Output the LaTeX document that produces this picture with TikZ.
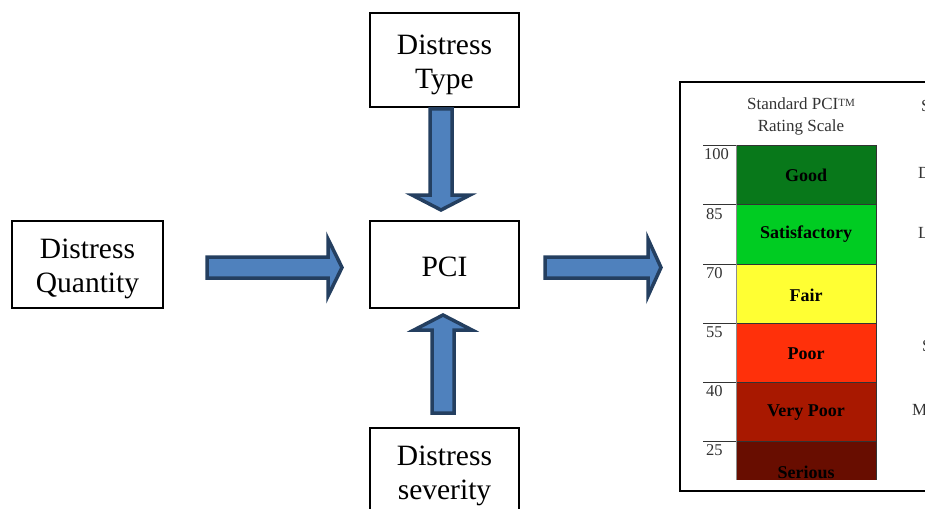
\documentclass[tikz,border=0pt]{standalone}
\usepackage{fontspec}
\setmainfont{Liberation Serif}
\tikzset{
  box/.style={draw=black, line width=1.3pt, fill=white, inner sep=0pt},
  boxtext/.style={font=\fontsize{29.5}{34}\selectfont, align=center},
  blockarrow/.style={draw=arrowedge, fill=arrowfill, line width=3.5pt, line join=miter},
  num/.style={anchor=north west, inner sep=0pt, text=numgray, font=\fontsize{16.5}{18}\selectfont},
  cell/.style={draw=black!80, line width=0.8pt},
  celltext/.style={font=\bfseries\fontsize{18}{20}\selectfont, text=black},
  cut/.style={anchor=west, inner sep=0pt, text=numgray, font=\fontsize{17}{18}\selectfont}
}
\definecolor{arrowfill}{HTML}{4F81BD}
\definecolor{arrowedge}{HTML}{243F60}
\definecolor{numgray}{HTML}{333333}
\definecolor{cgood}{HTML}{08781A}
\definecolor{csat}{HTML}{00CC22}
\definecolor{cfair}{HTML}{FFFF33}
\definecolor{cpoor}{HTML}{FF300A}
\definecolor{cvpoor}{HTML}{A81800}
\definecolor{cser}{HTML}{680D00}
\begin{document}
\begin{tikzpicture}[x=1pt,y=-1pt]
\useasboundingbox (0,0) rectangle (925,508);
\clip (0,0) rectangle (925,508);
\fill[white] (0,0) rectangle (925,508);
% boxes
\draw[box] (12,221) rectangle (163,308);
\node[boxtext] (qty) at (87.5,269) {Distress\\Quantity};
\draw[box] (370,13) rectangle (519,107);
\node[boxtext] (type) at (444.5,65) {Distress\\Type};
\draw[box] (370,221) rectangle (519,308);
\node[boxtext] (pci) at (444.5,267) {PCI};
\draw[box] (370,428) rectangle (519,520);
\node[boxtext] (sev) at (444.5,476) {Distress\\severity};
% block arrows
\draw[blockarrow] (207,257) -- (328,257) -- (328,239) -- (342,267.5) -- (328,296) -- (328,278) -- (207,278) -- cycle;
\draw[blockarrow] (545,257) -- (648,257) -- (648,239) -- (661,267.5) -- (648,296) -- (648,278) -- (545,278) -- cycle;
\draw[blockarrow] (430,109) -- (430,195) -- (412,195) -- (441,210) -- (470,195) -- (452,195) -- (452,109) -- cycle;
\draw[blockarrow] (432,413) -- (432,330) -- (414,330) -- (443,315) -- (472,330) -- (454,330) -- (454,413) -- cycle;
% rating scale panel
\draw[black, line width=2.2pt] (680,82) rectangle (960,491);
\node[font=\fontsize{17}{22}\selectfont, text=numgray, align=center] (title) at (801,116) {Standard PCI\raisebox{0.3ex}{\fontsize{11}{12}\selectfont TM}\\Rating Scale};
\fill[cgood] (736,145) rectangle (876,204);
\fill[csat] (736,204) rectangle (876,264);
\fill[cfair] (736,264) rectangle (876,323);
\fill[cpoor] (736,323) rectangle (876,382);
\fill[cvpoor] (736,382) rectangle (876,441);
\fill[cser] (736,441) rectangle (876,480);
\foreach \y in {145,204,264,323,382,441} {\draw[cell] (703,\y) -- (876,\y);}
\draw[black!45, line width=0.8pt] (736,145) -- (736,480);
\draw[black!80, line width=0.8pt] (876,145) -- (876,480);
\node[num] (n100) at (704,148) {100};
\node[num] (n85) at (706,208) {85};
\node[num] (n70) at (706,267) {70};
\node[num] (n55) at (706,326) {55};
\node[num] (n40) at (706,385) {40};
\node[num] (n25) at (706,444) {25};
\node[celltext] (good) at (806,175) {Good};
\node[celltext] (sat) at (806,234) {Satisfactory};
\node[celltext] (fair) at (806,295) {Fair};
\node[celltext] (poor) at (806,354) {Poor};
\node[celltext] (vpoor) at (806,413) {Very Poor};
\begin{scope}
\clip (736,441) rectangle (876,480);
\node[celltext] (ser) at (806,472) {Serious};
\end{scope}
% cut-off letters at the right edge (as in the reference)
\node[cut] (c1) at (921,106) {S};
\node[cut] (c2) at (918,173) {D};
\node[cut] (c3) at (918,233) {L};
\node[cut] (c4) at (922,346) {S};
\node[cut] (c5) at (912,410) {M};
\end{tikzpicture}
\end{document}
